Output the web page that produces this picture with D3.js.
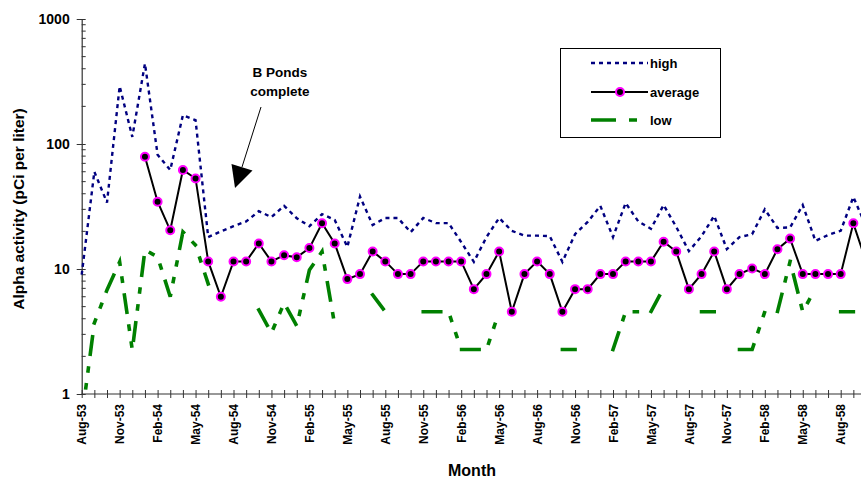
<!DOCTYPE html>
<html><head><meta charset="utf-8">
<script src="https://cdn.jsdelivr.net/npm/d3@7"></script>
<style>
body{margin:0;background:#fff;}
svg{display:block;font-family:"Liberation Sans",Arial,Helvetica,sans-serif;font-weight:bold;}
</style>
</head><body>
<svg id="chart" width="861" height="478"></svg>
<script>
// ---- data ----
const months = [
 "Aug-53","Sep-53","Oct-53","Nov-53","Dec-53",
 "Jan-54","Feb-54","Mar-54","Apr-54","May-54","Jun-54","Jul-54","Aug-54","Sep-54","Oct-54","Nov-54","Dec-54",
 "Jan-55","Feb-55","Mar-55","Apr-55","May-55","Jun-55","Jul-55","Aug-55","Sep-55","Oct-55","Nov-55","Dec-55",
 "Jan-56","Feb-56","Mar-56","Apr-56","May-56","Jun-56","Jul-56","Aug-56","Sep-56","Oct-56","Nov-56","Dec-56",
 "Jan-57","Feb-57","Mar-57","Apr-57","May-57","Jun-57","Jul-57","Aug-57","Sep-57","Oct-57","Nov-57","Dec-57",
 "Jan-58","Feb-58","Mar-58","Apr-58","May-58","Jun-58","Jul-58","Aug-58","Sep-58","Oct-58"
];
const tickLabels = ["Aug-53","Nov-53","Feb-54","May-54","Aug-54","Nov-54","Feb-55","May-55","Aug-55","Nov-55",
 "Feb-56","May-56","Aug-56","Nov-56","Feb-57","May-57","Aug-57","Nov-57","Feb-58","May-58","Aug-58"];
const high = [
 9, 60, 34, 290, 114,
 440, 82, 62, 170, 155, 18, 20, 22, 24, 29, 26, 32,
 25.5, 22, 27.5, 24.7, 15, 38, 22.5, 25.6, 25.6, 19.7, 25.6, 23.3,
 23.3, 16.4, 11.4, 18, 25.6, 20.2, 18.5, 18.5, 18.3, 11.4, 19, 23.8,
 32, 18, 33.7, 24, 21, 32.5, 21.7, 13.9, 18.3, 26.6, 14.4, 18,
 19, 30, 21.3, 21.5, 32.5, 16.8, 18.7, 20.2, 37.7, 22
];
const average = [
 null, null, null, null, null,
 79, 34.5, 20.4, 62, 53, 11.5, 6, 11.5, 11.5, 16, 11.5, 12.9,
 12.4, 14.7, 23.2, 16, 8.3, 9.1, 13.8, 11.5, 9.1, 9.1, 11.5, 11.5,
 11.5, 11.5, 6.9, 9.1, 13.8, 4.55, 9.1, 11.5, 9.1, 4.55, 6.9, 6.9,
 9.1, 9.1, 11.5, 11.5, 11.5, 16.5, 13.8, 6.9, 9.1, 13.8, 6.9, 9.1,
 10.1, 9.1, 14.4, 17.5, 9.1, 9.1, 9.1, 9.1, 23.2, 11.5
];
const low = [
 0.63, 3.7, 6.8, 11.4, 2.25,
 14.2, 12.5, 6.0, 19.8, 15.5, 7.6, null, null, null, 4.7, 3.08, 5.35,
 3.5, 9.8, 13.8, 3.57, null, null, 6.2, 4.55, null, null, 4.55, 4.55,
 4.55, 2.27, 2.27, 2.27, 4.55, null, null, null, null, 2.27, 2.27, null,
 null, 2.27, 4.55, 4.55, 4.55, 7.05, null, null, 4.55, 4.55, null, 2.27,
 2.27, 4.55, 4.55, 11.5, 4.55, 7.0, null, 4.55, 4.55, null
];
const yTicks = [1, 10, 100, 1000];
const seriesNames = ["high", "average", "low"];

// ---- layout ----
const svg = d3.select("#chart");
const plotLeft = 81.7, plotTop = 19, plotBottom = 394, step = 12.65;
const x = d3.scalePoint().domain(months).range([plotLeft, plotLeft + step * (months.length - 1)]);
const y = d3.scaleLog().domain([1, 1000]).range([plotBottom, plotTop]);
const axisColor = "#333";

svg.append("defs").append("clipPath").attr("id", "plot")
  .append("rect").attr("x", plotLeft - 2).attr("y", plotTop).attr("width", 900).attr("height", plotBottom - plotTop);

// ---- axes ----
const xAxis = svg.append("g").attr("transform", `translate(0,${plotBottom})`)
  .call(d3.axisBottom(x).tickValues(months).tickSize(0).tickFormat(""));
xAxis.select(".domain").attr("stroke", axisColor).attr("stroke-width", 1.2).attr("d", `M${plotLeft},0H900`);
xAxis.selectAll(".tick line").attr("y1", -4).attr("y2", 4).attr("stroke", axisColor).attr("stroke-width", 1);
svg.append("g").selectAll("text").data(tickLabels).join("text")
  .attr("transform", d => `translate(${x(d) + 4.6},404) rotate(-90)`)
  .attr("text-anchor", "end").attr("font-size", 12).attr("fill", "#000").text(d => d);

const yAxis = svg.append("g").attr("transform", `translate(${plotLeft},0)`)
  .call(d3.axisLeft(y).tickValues(yTicks).tickSize(0).tickFormat(d3.format("d")).tickPadding(12));
yAxis.select(".domain").attr("stroke", axisColor).attr("stroke-width", 1.2);
yAxis.selectAll(".tick line").attr("x1", -5).attr("x2", 4).attr("stroke", axisColor);
yAxis.selectAll(".tick text").attr("font-size", 14).attr("font-family", "Liberation Sans, Arial, sans-serif")
  .attr("font-weight", "bold").attr("fill", "#000");
const minor = y.ticks(30).filter(v => !yTicks.includes(v));
svg.append("g").selectAll("line").data(minor).join("line")
  .attr("x1", plotLeft).attr("x2", plotLeft + 4).attr("y1", d => y(d)).attr("y2", d => y(d))
  .attr("stroke", axisColor).attr("stroke-width", 1);

svg.append("text").attr("x", 472).attr("y", 476).attr("text-anchor", "middle")
  .attr("font-size", 16).text("Month");
svg.append("text").attr("transform", "translate(24,209) rotate(-90)").attr("text-anchor", "middle")
  .attr("font-size", 15.5).text("Alpha activity (pCi per liter)");

// ---- series ----
const line = d3.line().defined(d => d != null).x((d, i) => x(months[i])).y(d => y(d));
const plot = svg.append("g").attr("clip-path", "url(#plot)");

plot.append("path").attr("d", line(low)).attr("fill", "none")
  .attr("stroke", "#008000").attr("stroke-width", 3.6).attr("stroke-linecap", "square")
  .attr("stroke-dasharray", "17.5,14,3,14,3,14");
plot.append("path").attr("d", line(high)).attr("fill", "none")
  .attr("stroke", "#000080").attr("stroke-width", 2.4).attr("stroke-dasharray", "4,4");
plot.append("path").attr("d", line(average)).attr("fill", "none")
  .attr("stroke", "#000").attr("stroke-width", 2);
plot.append("g").selectAll("circle")
  .data(average.map((v, i) => ({v, m: months[i]})).filter(d => d.v != null))
  .join("circle").attr("cx", d => x(d.m)).attr("cy", d => y(d.v)).attr("r", 4)
  .attr("fill", "#000").attr("stroke", "#ff00ff").attr("stroke-width", 2);

// ---- annotation ----
svg.append("text").attr("x", 280).attr("y", 77).attr("text-anchor", "middle").attr("font-size", 13.5).text("B Ponds");
svg.append("text").attr("x", 280).attr("y", 96).attr("text-anchor", "middle").attr("font-size", 13.5).text("complete");
svg.append("line").attr("x1", 261).attr("y1", 107).attr("x2", 242).attr("y2", 167).attr("stroke", "#000").attr("stroke-width", 1);
svg.append("polygon").attr("points", "231.5,164 252.5,170.5 235,188").attr("fill", "#000");

// ---- legend ----
const lg = svg.append("g");
lg.append("rect").attr("x", 560.5).attr("y", 48.5).attr("width", 160).attr("height", 89)
  .attr("fill", "#fff").attr("stroke", "#000").attr("stroke-width", 1);
const ly = [63, 92, 120];
lg.append("line").attr("x1", 591).attr("x2", 648).attr("y1", ly[0]).attr("y2", ly[0])
  .attr("stroke", "#000080").attr("stroke-width", 2.4).attr("stroke-dasharray", "4,4");
lg.append("line").attr("x1", 591).attr("x2", 648).attr("y1", ly[1]).attr("y2", ly[1])
  .attr("stroke", "#000").attr("stroke-width", 2);
lg.append("circle").attr("cx", 620).attr("cy", ly[1]).attr("r", 4)
  .attr("fill", "#000").attr("stroke", "#ff00ff").attr("stroke-width", 2);
lg.append("line").attr("x1", 591).attr("x2", 648).attr("y1", ly[2]).attr("y2", ly[2])
  .attr("stroke", "#008000").attr("stroke-width", 3.6).attr("stroke-dasharray", "25,13,8,20");
lg.selectAll("text.lab").data(seriesNames).join("text").attr("class", "lab")
  .attr("x", 650).attr("y", (d, i) => ly[i] + 5).attr("font-size", 13).text(d => d);
</script>
</body></html>
